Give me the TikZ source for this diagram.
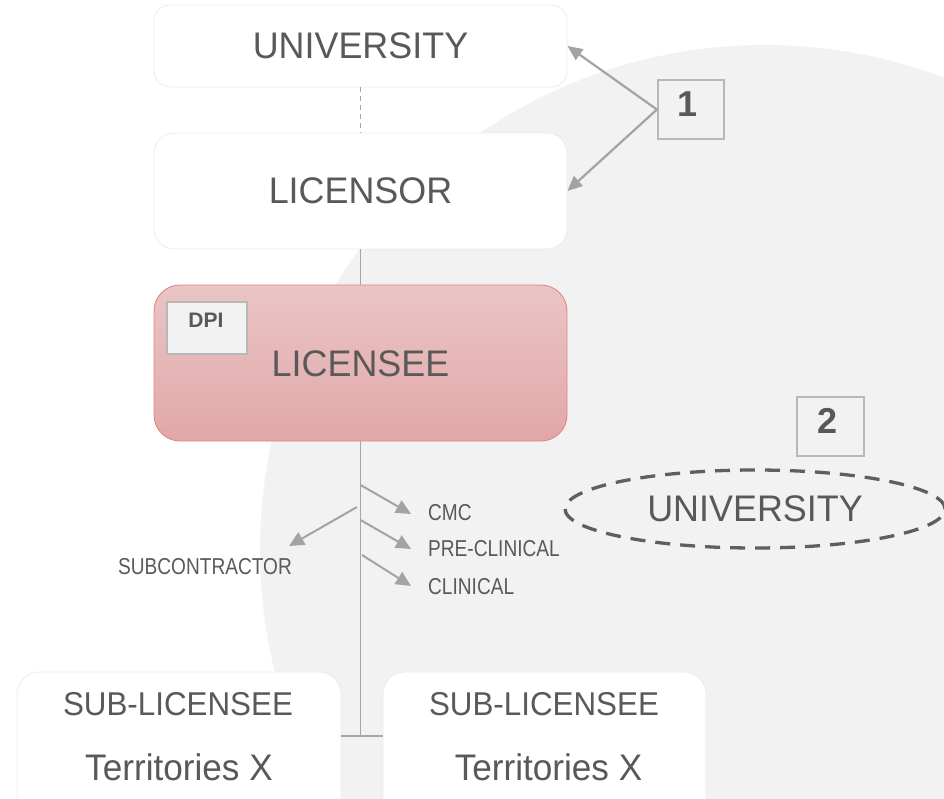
\documentclass[tikz,border=0pt]{standalone}
\usepackage{fontspec}
\setmainfont{Liberation Sans}
\newfontfamily\bigf[FakeStretch=0.97]{Liberation Sans}
\newfontfamily\midf[FakeStretch=0.95]{Liberation Sans}
\newfontfamily\smf[FakeStretch=0.83]{Liberation Sans}
\usetikzlibrary{arrows.meta,shapes.geometric}
\definecolor{bgc}{HTML}{F2F2F2}
\definecolor{txt}{HTML}{595959}
\definecolor{arr}{HTML}{A3A3A3}
\definecolor{vln}{HTML}{A6A6A6}
\definecolor{boxln}{HTML}{ECECEC}
\definecolor{numln}{HTML}{B8B8B8}
\definecolor{licA}{HTML}{EAC5C6}
\definecolor{licB}{HTML}{E2A7A7}
\definecolor{licln}{HTML}{DE8888}
\definecolor{elln}{HTML}{5F5F5F}
\begin{document}
\begin{tikzpicture}[x=1pt,y=-1pt,
  whitebox/.style={draw=boxln, line width=0.8pt, fill=white, rounded corners=16pt, inner sep=0pt},
  bigtext/.style={font=\bigf\fontsize{37}{40}\selectfont, text=txt},
  midtext/.style={font=\midf\fontsize{33}{36}\selectfont, text=txt, inner sep=0pt},
  tertext/.style={font=\midf\fontsize{37}{40}\selectfont, text=txt, inner sep=0pt},
  smalltext/.style={font=\smf\fontsize{23}{26}\selectfont, text=txt, inner sep=0pt},
  licbox/.style={draw=licln, line width=0.9pt, top color=licA, bottom color=licB, rounded corners=26pt, inner sep=0pt},
  dpibox/.style={draw=numln, line width=2.3pt, fill=bgc, inner sep=0pt},
  dpitext/.style={font=\bfseries\fontsize{21}{24}\selectfont, text=txt, inner sep=0pt},
  numbox/.style={draw=numln, line width=2.2pt, inner sep=0pt},
  numtext/.style={font=\bfseries\fontsize{36}{40}\selectfont, text=txt, inner sep=0pt},
  vline/.style={draw=vln, line width=1.3pt},
  dline/.style={draw=vln, line width=1pt, dash pattern=on 5pt off 4pt},
  bigarr/.style={draw=arr, line width=2.2pt, -{Triangle[length=15pt,width=13pt]}},
  smarr/.style={draw=arr, line width=2pt, -{Triangle[length=15pt,width=14pt]}},
  ell/.style={ellipse, draw=elln, line width=3.3pt, dash pattern=on 15pt off 10pt, inner sep=0pt,
    font=\bigf\fontsize{37}{40}\selectfont, text=txt}
]
\useasboundingbox (0,0) rectangle (944,799);
\clip (0,0) rectangle (944,799);
\fill[bgc] (765,550) circle [radius=505pt];

% main boxes
\node[whitebox, bigtext, minimum width=413pt, minimum height=82pt] (univ) at (360.5,46) {UNIVERSITY};
\node[whitebox, bigtext, minimum width=413pt, minimum height=116pt, rounded corners=20pt] (licensor) at (360.5,191) {LICENSOR};
\node[licbox, bigtext, minimum width=413pt, minimum height=156pt] (licensee) at (360.5,363) {};
\node[bigtext, inner sep=0pt] (licenseet) at (360.5,364) {LICENSEE};
\node[dpibox, minimum width=80pt, minimum height=52pt] (dpi) at (207,328) {};
\node[dpitext] (dpit) at (206,320) {DPI};

% sub-licensee boxes
\node[whitebox, minimum width=324pt, minimum height=150pt, rounded corners=22pt] (sl1) at (179,747) {};
\node[whitebox, minimum width=323pt, minimum height=150pt, rounded corners=22pt] (sl2) at (544.5,747) {};
\node[midtext] (sl1a) at (178,704) {SUB-LICENSEE};
\node[tertext] (sl1b) at (179,767) {Territories X};
\node[midtext] (sl2a) at (544,704) {SUB-LICENSEE};
\node[tertext] (sl2b) at (548.5,767) {Territories X};

% connectors
\draw[dline] (univ.south) -- (licensor.north);
\draw[vline] (licensor.south) -- (licensee.north);
\coordinate (j) at (360.5,736);
\draw[vline] (licensee.south) -- (j);
\draw[vline] (sl1.east |- j) -- (sl2.west |- j);

% number boxes
\node[numbox, minimum width=66pt, minimum height=59pt] (b1) at (691,109.5) {};
\node[numtext] (n1) at (687.5,104) {1};
\node[numbox, minimum width=67pt, minimum height=59pt] (b2) at (830.5,426.5) {};
\node[numtext] (n2) at (827,421) {2};
\draw[bigarr] (b1.west) -- (univ.east);
\draw[bigarr] (b1.west) -- (licensor.east);

% dashed university
\node[ell, minimum width=380pt, minimum height=78pt] (univ2) at (755,509) {UNIVERSITY};

% small labels and arrows
\node[smalltext, anchor=west] (cmc) at (428,513) {CMC};
\node[smalltext, anchor=west] (pre) at (428,549) {PRE-CLINICAL};
\node[smalltext, anchor=west] (cli) at (428,587) {CLINICAL};
\node[smalltext, anchor=east] (sub) at (292,567) {SUBCONTRACTOR};
\coordinate (cmcS) at (360.5,485);
\coordinate (cmcE) at (411,514);
\coordinate (preS) at (360.5,520);
\coordinate (preE) at (411,549);
\coordinate (cliS) at (362,555);
\coordinate (cliE) at (411,586);
\coordinate (subS) at (357,507);
\coordinate (subE) at (289,546);
\draw[smarr] (cmcS) -- (cmcE);
\draw[smarr] (preS) -- (preE);
\draw[smarr] (cliS) -- (cliE);
\draw[smarr] (subS) -- (subE);
\end{tikzpicture}
\end{document}
